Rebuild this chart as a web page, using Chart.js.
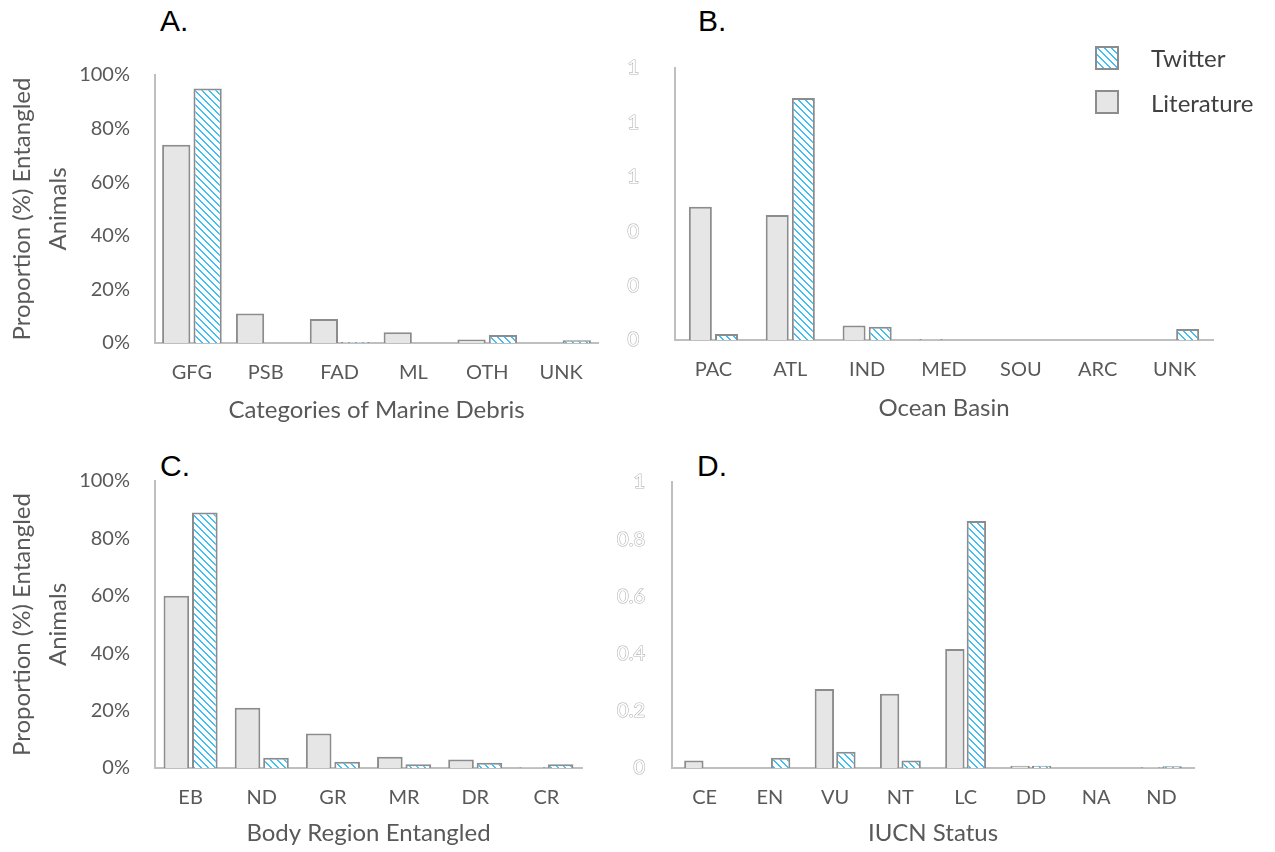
<!DOCTYPE html>
<html>
<head>
<meta charset="utf-8">
<script src="https://cdn.jsdelivr.net/npm/chart.js@4/dist/chart.umd.min.js"></script>
<style>
  html, body { margin: 0; padding: 0; background: #ffffff; }
  body { width: 1275px; height: 852px; position: relative; overflow: hidden; font-family: Lato, "Open Sans", sans-serif; }
  canvas.panel { position: absolute; }
  .letter { position: absolute; font-family: "Liberation Sans", Arial, sans-serif; font-size: 30px; line-height: 30px; color: #000; }
  .leg { position: absolute; font-family: Lato, sans-serif; font-size: 24px; line-height: 24px; color: #404040; }
  .box { position: absolute; width: 20px; height: 20px; border: 2px solid #8c8c8c; box-sizing: content-box; }
</style>
</head>
<body>
<div class="letter" style="left:160px; top:6px;">A.</div>
<div class="letter" style="left:698px; top:6px;">B.</div>
<div class="letter" style="left:160px; top:451px;">C.</div>
<div class="letter" style="left:697px; top:451px;">D.</div>

<canvas id="cA" class="panel" width="615" height="390" style="left:0px; top:50px;"></canvas>
<canvas id="cB" class="panel" width="660" height="390" style="left:615px; top:50px;"></canvas>
<canvas id="cC" class="panel" width="615" height="397" style="left:0px; top:455px;"></canvas>
<canvas id="cD" class="panel" width="660" height="397" style="left:615px; top:455px;"></canvas>

<canvas id="legTw" class="box" width="20" height="20" style="left:1095px; top:46px;"></canvas>
<div class="box" style="left:1095px; top:90px; background:#e6e6e6;"></div>
<div class="leg" id="legTwText" style="left:1151px; top:46px;">Twitter</div>
<div class="leg" id="legLitText" style="left:1151px; top:91px;">Literature</div>

<script>
// ---------------- DATA ----------------
const seriesNames = ['Literature', 'Twitter'];

const categoriesA = ['GFG', 'PSB', 'FAD', 'ML', 'OTH', 'UNK'];
const literatureA = [0.74, 0.11, 0.09, 0.04, 0.013, 0];
const twitterA    = [0.95, 0, 0.004, 0, 0.03, 0.01];
const yTicksA     = ['0%', '20%', '40%', '60%', '80%', '100%'];

const categoriesB = ['PAC', 'ATL', 'IND', 'MED', 'SOU', 'ARC', 'UNK'];
const literatureB = [0.49, 0.46, 0.053, 0.004, 0, 0, 0];
const twitterB    = [0.022, 0.89, 0.049, 0, 0, 0, 0.04];
const yTicksB     = ['0', '0', '0', '1', '1', '1'];

const categoriesC = ['EB', 'ND', 'GR', 'MR', 'DR', 'CR'];
const literatureC = [0.60, 0.21, 0.12, 0.039, 0.03, 0.003];
const twitterC    = [0.89, 0.036, 0.022, 0.013, 0.018, 0.013];
const yTicksC     = ['0%', '20%', '40%', '60%', '80%', '100%'];

const categoriesD = ['CE', 'EN', 'VU', 'NT', 'LC', 'DD', 'NA', 'ND'];
const literatureD = [0.026, 0, 0.276, 0.26, 0.416, 0.008, 0, 0.003];
const twitterD    = [0, 0.036, 0.057, 0.026, 0.864, 0.008, 0, 0.006];
const yTicksD     = ['0', '0.2', '0.4', '0.6', '0.8', '1'];

const yTitle = ['Proportion (%) Entangled', 'Animals'];
const xTitleA = 'Categories of Marine Debris';
const xTitleB = 'Ocean Basin';
const xTitleC = 'Body Region Entangled';
const xTitleD = 'IUCN Status';

// ---------------- STYLE ----------------
const BLUE = '#3fbff3';
const EDGE = '#8c8c8c';
const LIT_FILL = '#e6e6e6';
const AXIS = '#bfbfbf';
const TEXT = '#595959';

function makeHatch() {
  const n = 7;
  const c = document.createElement('canvas');
  c.width = n; c.height = n;
  const g = c.getContext('2d');
  g.fillStyle = '#ffffff';
  g.fillRect(0, 0, n, n);
  g.fillStyle = BLUE;
  for (let y = 0; y < n; y++) {
    for (let x = 0; x < n; x++) {
      const d = ((x - y) % n + n) % n;
      if (d === 0 || d === 1) g.fillRect(x, y, 1, 1);
    }
  }
  return c;
}
const hatchTile = makeHatch();

// legend box
(function () {
  const lc = document.getElementById('legTw');
  const g = lc.getContext('2d');
  g.fillStyle = g.createPattern(hatchTile, 'repeat');
  g.fillRect(0, 0, lc.width, lc.height);
})();

function buildPanel(id, cfg) {
  const canvas = document.getElementById(id);
  const ctx = canvas.getContext('2d');
  const pattern = ctx.createPattern(hatchTile, 'repeat');
  const hollow = cfg.hollow;
  return new Chart(ctx, {
    type: 'bar',
    data: {
      labels: cfg.categories,
      datasets: [
        {
          label: seriesNames[0],
          data: cfg.literature,
          backgroundColor: LIT_FILL,
          borderColor: EDGE,
          borderWidth: 2,
          categoryPercentage: cfg.catPct,
          barPercentage: cfg.barPct
        },
        {
          label: seriesNames[1],
          data: cfg.twitter,
          backgroundColor: pattern,
          borderColor: EDGE,
          borderWidth: 2,
          categoryPercentage: cfg.catPct,
          barPercentage: cfg.barPct
        }
      ]
    },
    options: {
      responsive: false,
      animation: false,
      devicePixelRatio: 1,
      layout: { padding: { top: cfg.padTop, right: cfg.padRight, left: 0, bottom: 0 } },
      plugins: { legend: { display: false }, tooltip: { enabled: false } },
      scales: {
        x: {
          grid: { display: false, drawTicks: false },
          border: { display: true, color: AXIS, width: 2 },
          ticks: { color: TEXT, font: { family: 'Lato', size: 20 }, padding: 18, maxRotation: 0, autoSkip: false },
          title: {
            display: true, text: cfg.xTitle, color: TEXT,
            font: { family: 'Lato', size: 24 },
            padding: { top: 0, bottom: cfg.xTitlePadBottom }
          },
          afterFit: (s) => { s.height = cfg.xHeight; s.paddingLeft = 0; s.paddingRight = 0; }
        },
        y: {
          min: 0, max: 1,
          grid: { display: false, drawTicks: false },
          border: { display: true, color: AXIS, width: 2 },
          ticks: {
            stepSize: 0.2,
            color: hollow ? '#ffffff' : TEXT,
            textStrokeColor: hollow ? '#b5b5b5' : undefined,
            textStrokeWidth: hollow ? 1.2 : 0,
            font: { family: 'Lato', size: 20 },
            padding: cfg.yTickPad,
            callback: (v, i) => cfg.yTicks[i]
          },
          title: {
            display: !!cfg.yTitle,
            text: cfg.yTitle || '',
            color: TEXT,
            font: { family: 'Lato', size: 24, lineHeight: 1.5 },
            padding: { top: 4, bottom: 0 }
          },
          afterFit: (s) => { s.width = cfg.yWidth; s.paddingTop = 0; s.paddingBottom = 0; }
        }
      }
    }
  });
}

buildPanel('cA', {
  categories: categoriesA, literature: literatureA, twitter: twitterA, yTicks: yTicksA,
  xTitle: xTitleA, yTitle: yTitle, hollow: false,
  catPct: 0.85, barPct: 0.9,
  yWidth: 155, padTop: 25, padRight: 17, xHeight: 97, xTitlePadBottom: 15, yTickPad: 25
});

buildPanel('cB', {
  categories: categoriesB, literature: literatureB, twitter: twitterB, yTicks: yTicksB,
  xTitle: xTitleB, yTitle: null, hollow: true,
  catPct: 0.68, barPct: 0.88,
  yWidth: 60, padTop: 18, padRight: 62, xHeight: 100, xTitlePadBottom: 17, yTickPad: 36
});

buildPanel('cC', {
  categories: categoriesC, literature: literatureC, twitter: twitterC, yTicks: yTicksC,
  xTitle: xTitleC, yTitle: yTitle, hollow: false,
  catPct: 0.8, barPct: 0.9,
  yWidth: 155, padTop: 26, padRight: 33, xHeight: 84, xTitlePadBottom: 4, yTickPad: 25
});

buildPanel('cD', {
  categories: categoriesD, literature: literatureD, twitter: twitterD, yTicks: yTicksD,
  xTitle: xTitleD, yTitle: null, hollow: true,
  catPct: 0.66, barPct: 0.9,
  yWidth: 57, padTop: 27, padRight: 81, xHeight: 84, xTitlePadBottom: 4, yTickPad: 27
});
</script>
</body>
</html>
